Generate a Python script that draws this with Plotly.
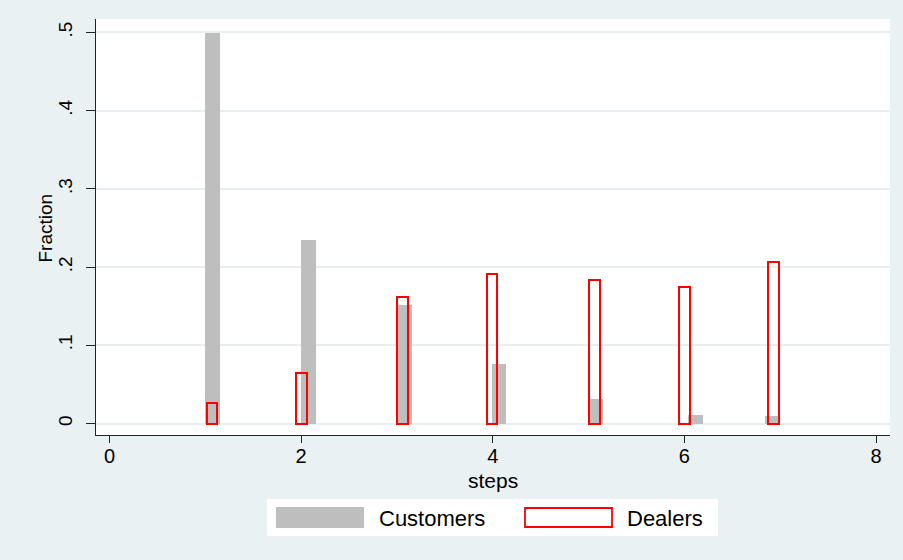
import plotly.graph_objects as go

# ---- data ----
customers_steps = [1.075, 2.08, 3.08, 4.065, 5.075, 6.12, 6.92]
customers_frac = [0.499, 0.234, 0.152, 0.076, 0.031, 0.0115, 0.009]
dealers_steps = [1.07, 2.005, 3.06, 3.99, 5.06, 6.0, 6.93]
dealers_frac = [0.026, 0.064, 0.1615, 0.191, 0.183, 0.175, 0.206]

y_ticks = [0, 0.1, 0.2, 0.3, 0.4, 0.5]
y_ticklabels = ["0", ".1", ".2", ".3", ".4", ".5"]
x_ticks = [0, 2, 4, 6, 8]
x_ticklabels = ["0", "2", "4", "6", "8"]
legend_names = ["Customers", "Dealers"]

BG = "#EAF1F3"
GRAY = "#BEBEBE"
RED = "#FF0000"
FONT = "Liberation Sans, Arial, Helvetica, sans-serif"

W, H = 903, 560
ML, MR, MT, MB = 96, 13, 19, 125
PW, PH = W - ML - MR, H - MT - MB

fig = go.Figure()
fig.add_trace(go.Bar(
    x=customers_steps, y=customers_frac, width=0.155,
    marker=dict(color=GRAY, line=dict(width=0)),
    name=legend_names[0], showlegend=False,
))
fig.add_trace(go.Bar(
    x=dealers_steps, y=dealers_frac, width=0.11,
    marker=dict(color="rgba(0,0,0,0)", line=dict(color=RED, width=2)),
    name=legend_names[1], showlegend=False,
))


def px2paper(px, py):
    return (px - ML) / PW, (H - MB - py) / PH


shapes = []
annotations = []
# legend box
x0, y0 = px2paper(267, 536)
x1, y1 = px2paper(718, 499)
shapes.append(dict(type="rect", xref="paper", yref="paper", x0=x0, y0=y0, x1=x1, y1=y1,
                   fillcolor="white", line=dict(width=0), layer="below"))
# swatches
sx0, sy0 = px2paper(276, 528)
sx1, sy1 = px2paper(364, 507)
shapes.append(dict(type="rect", xref="paper", yref="paper", x0=sx0, y0=sy0, x1=sx1, y1=sy1,
                   fillcolor=GRAY, line=dict(width=0)))
sx0, sy0 = px2paper(525, 527)
sx1, sy1 = px2paper(612, 508)
shapes.append(dict(type="rect", xref="paper", yref="paper", x0=sx0, y0=sy0, x1=sx1, y1=sy1,
                   fillcolor="white", line=dict(color=RED, width=1.8)))
tx, ty = px2paper(377, 518)
annotations.append(dict(text=legend_names[0], xref="paper", yref="paper", x=tx, y=ty,
                        xanchor="left", yanchor="middle", showarrow=False,
                        font=dict(family=FONT, size=22, color="black")))
tx, ty = px2paper(625, 518)
annotations.append(dict(text=legend_names[1], xref="paper", yref="paper", x=tx, y=ty,
                        xanchor="left", yanchor="middle", showarrow=False,
                        font=dict(family=FONT, size=22, color="black")))
# axis titles
tx, ty = px2paper(493, 480)
annotations.append(dict(text="steps", xref="paper", yref="paper", x=tx, y=ty,
                        xanchor="center", yanchor="middle", showarrow=False,
                        font=dict(family=FONT, size=21, color="black")))
tx, ty = px2paper(44.5, 228)
annotations.append(dict(text="Fraction", xref="paper", yref="paper", x=tx, y=ty,
                        xanchor="center", yanchor="middle", showarrow=False, textangle=-90,
                        font=dict(family=FONT, size=19, color="black")))

fig.update_layout(
    width=W, height=H,
    margin=dict(l=ML, r=MR, t=MT, b=MB, pad=0),
    paper_bgcolor=BG, plot_bgcolor="white",
    barmode="overlay", bargap=0,
    showlegend=False,
    shapes=shapes, annotations=annotations,
    font=dict(family=FONT, size=18, color="black"),
    xaxis=dict(
        range=[-0.141, 8.146], tickvals=x_ticks, ticktext=x_ticklabels,
        showgrid=False, zeroline=False,
        showline=True, linecolor="#222222", linewidth=1.4,
        ticks="outside", ticklen=7, tickwidth=1.4, tickcolor="#222222",
        ticklabelstandoff=-4,
        tickfont=dict(family=FONT, size=20, color="black"),
        fixedrange=True,
    ),
    yaxis=dict(
        range=[-0.0147, 0.5172], tickvals=y_ticks, ticktext=y_ticklabels,
        showgrid=True, gridcolor="#E6EEF0", gridwidth=1.5, zeroline=False,
        showline=True, linecolor="#222222", linewidth=1.4,
        ticks="outside", ticklen=9, tickwidth=1.4, tickcolor="#222222",
        tickangle=-90, ticklabelstandoff=6,
        tickfont=dict(family=FONT, size=19, color="black"),
        fixedrange=True,
    ),
)

fig.write_html(
    "out.html",
    config={"displayModeBar": False},
    post_script="document.body.style.margin='0px';document.body.style.overflow='hidden';"
                "document.documentElement.style.background='" + BG + "';",
)
